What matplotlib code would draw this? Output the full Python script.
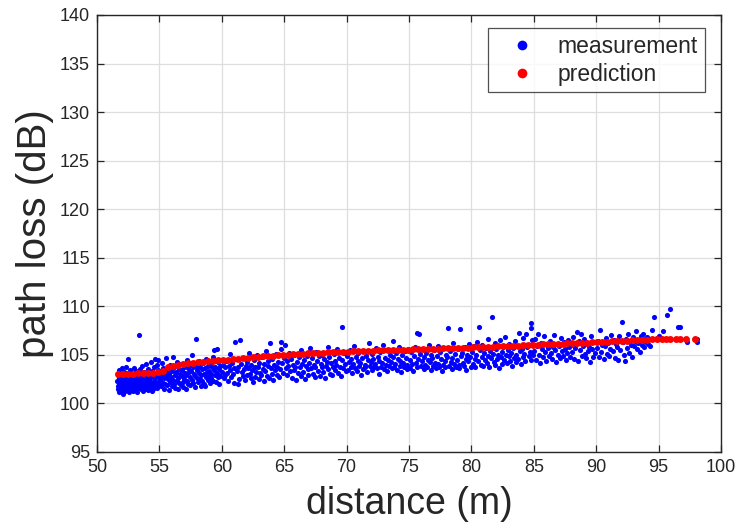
import matplotlib
matplotlib.use("Agg")
import matplotlib.pyplot as plt
from matplotlib.lines import Line2D

plt.rcParams['font.family'] = ['Liberation Sans', 'DejaVu Sans']

# measurement points (distance m, path loss dB), grouped by distance band
meas_51_55 = [(51.62,102.3),(51.65,101.8),(51.68,102.9),(51.70,101.5),(51.73,102.6),(51.75,103.4),(51.78,102.0),(51.80,101.2),(51.83,102.8),(51.86,101.7),
(51.88,102.4),(51.91,103.0),(51.93,101.9),(51.96,102.2),(51.98,101.4),(52.01,102.7),(52.04,103.6),(52.06,101.8),(52.09,102.5),(52.12,101.0),
(52.14,102.1),(52.17,103.2),(52.20,101.6),(52.22,102.9),(52.25,102.3),(52.28,101.3),(52.31,103.8),(52.33,102.0),(52.36,101.7),(52.39,102.6),
(52.42,101.4),(52.45,103.1),(52.48,104.6),(52.50,102.4),(52.53,101.9),(52.56,102.8),(52.59,101.2),(52.62,102.2),(52.64,103.4),(52.67,101.6),
(52.70,102.7),(52.73,102.0),(52.76,101.5),(52.79,103.0),(52.82,102.4),(52.85,101.8),(52.88,102.9),(52.91,101.3),(52.94,102.5),(52.97,103.6),
(53.00,102.1),(53.03,101.7),(53.06,102.8),(53.09,101.4),(53.12,102.3),(53.15,103.3),(53.18,101.9),(53.21,102.6),(53.24,101.2),(53.27,102.0),
(53.30,103.0),(53.33,101.6),(53.36,102.4),(53.40,107.0),(53.42,102.9),(53.45,101.8),(53.48,103.5),(53.51,102.2),(53.54,101.5),(53.57,102.7),
(53.60,103.9),(53.63,101.9),(53.66,102.5),(53.69,101.3),(53.72,102.1),(53.75,103.2),(53.78,101.7),(53.81,102.8),(53.84,102.3),(53.87,101.5),
(53.90,103.0),(53.93,102.0),(53.96,104.1),(53.99,101.8),(54.02,102.6),(54.05,101.4),(54.08,102.9),(54.11,103.5),(54.14,101.9),(54.17,102.4),
(54.20,101.6),(54.23,103.1),(54.26,102.2),(54.29,104.3),(54.32,101.8),(54.35,102.7),(54.38,101.3),(54.41,103.3),(54.44,102.0),(54.47,102.8),
(54.50,101.5),(54.53,103.7),(54.56,102.3),(54.59,101.9),(54.62,104.6),(54.65,102.6),(54.68,101.7),(54.71,103.0),(54.74,102.1),(54.77,104.0),
(54.80,101.6),(54.83,102.9),(54.86,103.4),(54.89,102.2),(54.92,104.5),(54.95,101.9),(54.98,102.7)]

meas_55_60 = [(55.03,102.4),(55.08,103.3),(55.12,101.8),(55.17,102.9),(55.21,104.2),(55.26,102.1),(55.30,103.6),(55.35,101.5),(55.39,102.6),(55.44,103.1),
(55.48,102.0),(55.53,104.7),(55.57,102.8),(55.62,101.9),(55.66,103.4),(55.71,102.5),(55.75,101.4),(55.80,103.0),(55.84,102.2),(55.89,104.0),
(55.93,102.7),(55.98,101.8),(56.02,103.3),(56.07,102.4),(56.11,104.8),(56.16,102.0),(56.20,103.7),(56.25,101.6),(56.29,102.9),(56.34,103.2),
(56.38,102.3),(56.43,104.3),(56.47,101.5),(56.52,102.6),(56.56,103.5),(56.61,102.1),(56.65,103.0),(56.70,101.9),(56.74,104.1),(56.79,102.8),
(56.83,103.4),(56.88,102.2),(56.92,101.7),(56.97,103.8),(57.01,102.5),(57.06,103.1),(57.10,101.5),(57.15,102.9),(57.19,104.5),(57.24,102.3),
(57.28,103.6),(57.33,102.0),(57.37,103.2),(57.42,101.9),(57.46,102.7),(57.51,104.0),(57.55,103.3),(57.60,105.0),(57.64,102.4),(57.69,103.7),
(57.73,102.1),(57.78,103.0),(57.82,101.7),(57.87,102.8),(57.91,103.9),(57.96,106.6),(58.00,102.6),(58.05,103.4),(58.09,102.2),(58.14,104.4),
(58.18,103.1),(58.23,102.5),(58.27,103.8),(58.32,101.8),(58.36,102.9),(58.41,103.5),(58.45,102.3),(58.50,104.2),(58.54,103.0),(58.59,102.0),
(58.63,103.6),(58.68,101.8),(58.72,102.7),(58.77,104.6),(58.81,103.2),(58.86,102.4),(58.90,103.9),(58.95,102.8),(58.99,103.3),(59.04,102.1),
(59.08,104.1),(59.13,103.0),(59.17,102.6),(59.22,103.7),(59.26,102.3),(59.31,104.8),(59.35,103.4),(59.40,105.5),(59.44,102.9),(59.49,103.8),
(59.53,102.2),(59.58,105.6),(59.62,103.1),(59.67,102.7),(59.71,104.3),(59.76,103.5),(59.80,102.0),(59.85,103.9),(59.89,102.8),(59.94,104.5)]

meas_60_65 = [(60.03,103.2),(60.10,104.0),(60.16,102.6),(60.23,103.7),(60.29,102.9),(60.36,104.4),(60.42,103.1),(60.49,102.3),(60.55,103.9),(60.62,105.1),
(60.68,103.4),(60.75,102.7),(60.81,104.2),(60.88,103.0),(60.94,102.1),(61.01,103.6),(61.07,106.3),(61.14,104.6),(61.20,103.3),(61.27,102.0),
(61.33,103.8),(61.40,102.5),(61.46,106.5),(61.53,104.1),(61.59,103.2),(61.66,102.8),(61.72,104.7),(61.79,103.5),(61.85,102.4),(61.92,103.9),
(61.98,104.3),(62.05,102.9),(62.11,103.6),(62.18,105.2),(62.24,103.0),(62.31,102.6),(62.37,104.0),(62.44,103.4),(62.50,102.2),(62.57,104.5),
(62.63,103.7),(62.70,102.7),(62.76,103.2),(62.83,105.0),(62.89,103.8),(62.96,102.5),(63.02,104.2),(63.09,103.1),(63.15,102.9),(63.22,104.8),
(63.28,103.5),(63.35,102.3),(63.41,104.1),(63.48,103.3),(63.54,105.4),(63.61,102.8),(63.67,103.9),(63.74,104.4),(63.80,102.6),(63.87,106.2),
(63.93,103.6),(64.00,104.6),(64.06,103.0),(64.13,102.4),(64.19,104.0),(64.26,103.4),(64.32,105.1),(64.39,102.9),(64.45,103.8),(64.52,104.3),
(64.58,102.7),(64.65,103.5),(64.71,105.6),(64.78,106.3),(64.84,104.2),(64.91,103.1),(64.97,104.7)]

meas_65_70 = [(65.05,106.0),(65.12,103.6),(65.19,104.4),(65.26,102.9),(65.33,103.9),(65.40,105.2),(65.47,103.3),(65.54,104.6),(65.61,102.6),(65.68,104.0),
(65.75,103.4),(65.82,105.0),(65.89,103.8),(65.96,102.4),(66.03,104.3),(66.10,103.1),(66.17,104.8),(66.24,103.7),(66.31,102.8),(66.38,105.5),
(66.45,104.1),(66.52,103.2),(66.59,104.5),(66.66,102.5),(66.73,103.9),(66.80,104.9),(66.87,103.5),(66.94,102.9),(67.01,104.2),(67.08,105.7),
(67.15,103.6),(67.22,104.7),(67.29,103.0),(67.36,104.0),(67.43,102.7),(67.50,103.8),(67.57,105.3),(67.64,104.4),(67.71,103.3),(67.78,104.9),
(67.85,102.8),(67.92,104.1),(67.99,103.7),(68.06,105.0),(68.13,103.2),(68.20,104.6),(68.27,102.6),(68.34,103.9),(68.41,104.3),(68.48,105.8),
(68.55,103.5),(68.62,104.8),(68.69,103.0),(68.76,104.2),(68.83,102.9),(68.90,103.7),(68.97,105.1),(69.04,104.4),(69.11,103.4),(69.18,104.0),
(69.25,105.6),(69.32,103.1),(69.39,104.7),(69.46,103.8),(69.53,102.8),(69.60,104.5),(69.67,107.9),(69.74,103.6),(69.81,105.2),(69.88,104.1),(69.95,103.3)]

meas_70_75 = [(70.04,104.9),(70.11,103.4),(70.18,104.3),(70.25,105.5),(70.32,103.8),(70.39,104.6),(70.46,103.1),(70.53,104.1),(70.60,105.9),(70.67,103.6),
(70.74,104.8),(70.81,103.3),(70.88,104.4),(70.95,105.2),(71.02,103.9),(71.09,104.2),(71.16,102.9),(71.23,104.7),(71.30,103.5),(71.37,105.4),
(71.44,104.0),(71.51,103.7),(71.58,104.9),(71.65,103.2),(71.72,104.5),(71.79,106.2),(71.86,103.9),(71.93,104.3),(72.00,103.4),(72.07,105.1),
(72.14,104.6),(72.21,103.8),(72.28,104.1),(72.35,105.7),(72.42,103.6),(72.49,104.8),(72.56,103.0),(72.63,104.4),(72.70,105.3),(72.77,103.7),
(72.84,104.2),(72.91,106.0),(72.98,103.5),(73.05,104.7),(73.12,104.0),(73.19,105.5),(73.26,103.3),(73.33,104.5),(73.40,103.9),(73.47,105.0),
(73.54,104.3),(73.61,103.6),(73.68,106.4),(73.75,104.8),(73.82,103.8),(73.89,104.1),(73.96,105.2),(74.03,103.4),(74.10,104.6),(74.17,105.8),
(74.24,103.9),(74.31,104.4),(74.38,103.2),(74.45,105.0),(74.52,104.2),(74.59,103.7),(74.66,105.4),(74.73,104.7),(74.80,103.5),(74.87,104.0),(74.94,105.6)]

meas_75_80 = [(75.05,104.5),(75.12,103.6),(75.19,105.3),(75.26,104.1),(75.33,103.3),(75.40,104.9),(75.47,105.8),(75.54,104.2),(75.61,107.3),(75.68,103.8),
(75.75,104.6),(75.82,107.1),(75.89,105.1),(75.96,103.9),(76.03,104.4),(76.10,105.6),(76.17,103.5),(76.24,104.8),(76.31,104.0),(76.38,105.2),
(76.45,103.7),(76.52,104.5),(76.59,106.0),(76.66,104.3),(76.73,103.4),(76.80,105.0),(76.87,104.7),(76.94,103.9),(77.01,105.5),(77.08,104.2),
(77.15,103.6),(77.22,104.9),(77.29,105.9),(77.36,104.1),(77.43,103.8),(77.50,105.3),(77.57,104.6),(77.64,103.3),(77.71,104.0),(77.78,105.7),
(77.85,104.4),(77.92,103.7),(77.99,105.0),(78.06,104.8),(78.13,107.8),(78.20,103.9),(78.27,105.4),(78.34,104.3),(78.41,103.5),(78.48,104.7),
(78.55,106.2),(78.62,104.1),(78.69,105.1),(78.76,103.8),(78.83,104.5),(78.90,105.6),(78.97,104.0),(79.04,103.6),(79.11,107.7),(79.18,104.9),
(79.25,105.2),(79.32,104.2),(79.39,103.9),(79.46,105.8),(79.53,104.6),(79.60,103.4),(79.67,105.0),(79.74,104.4),(79.81,106.1),(79.88,104.8),(79.95,103.8)]

meas_80_85 = [(80.04,105.3),(80.11,104.1),(80.18,105.9),(80.25,104.6),(80.32,103.7),(80.39,105.0),(80.46,106.3),(80.53,104.4),(80.60,107.9),(80.67,105.5),
(80.74,104.0),(80.81,104.8),(80.88,106.0),(80.95,103.9),(81.02,105.2),(81.09,104.5),(81.16,105.7),(81.23,104.2),(81.30,106.6),(81.37,104.9),
(81.44,103.8),(81.51,105.4),(81.58,104.7),(81.65,108.9),(81.72,105.1),(81.79,104.3),(81.86,106.2),(81.93,104.0),(82.00,105.6),(82.07,104.6),
(82.14,105.0),(82.21,103.6),(82.28,106.5),(82.35,104.8),(82.42,105.3),(82.49,104.1),(82.56,105.8),(82.63,104.5),(82.70,106.8),(82.77,105.0),
(82.84,104.2),(82.91,105.5),(82.98,104.9),(83.05,106.1),(83.12,104.4),(83.19,105.2),(83.26,103.9),(83.33,105.7),(83.40,104.7),(83.47,106.4),
(83.54,105.0),(83.61,104.3),(83.68,105.9),(83.75,104.6),(83.82,107.3),(83.89,105.4),(83.96,104.1),(84.03,105.6),(84.10,106.7),(84.17,104.8),
(84.24,105.1),(84.31,104.4),(84.38,107.1),(84.45,105.8),(84.75,108.3),(84.80,107.8),(84.59,104.9),(84.66,106.0),(84.73,105.3),(84.80,104.5),(84.87,106.5),(84.94,105.0)]

meas_85_90 = [(85.05,105.4),(85.13,106.6),(85.21,104.5),(85.29,105.9),(85.37,107.1),(85.45,105.0),(85.53,104.2),(85.61,106.2),(85.69,105.6),(85.77,104.8),
(85.85,106.9),(85.93,105.3),(86.01,104.4),(86.09,106.0),(86.17,105.7),(86.25,104.9),(86.33,106.4),(86.41,105.2),(86.49,104.6),(86.57,105.8),
(86.65,107.0),(86.73,105.5),(86.81,104.3),(86.89,106.1),(86.97,105.0),(87.05,105.9),(87.13,104.7),(87.21,106.7),(87.29,105.4),(87.37,104.9),
(87.45,106.3),(87.53,105.6),(87.61,104.5),(87.69,105.2),(87.77,106.5),(87.85,105.8),(87.93,104.8),(88.01,106.0),(88.09,105.3),(88.17,106.8),
(88.25,104.6),(88.33,105.7),(88.41,106.2),(88.49,107.4),(88.57,104.4),(88.65,106.4),(88.73,105.5),(88.81,107.2),(88.89,104.9),(88.97,105.9),
(89.05,106.6),(89.13,105.1),(89.21,104.7),(89.29,106.1),(89.37,105.4),(89.45,105.8),(89.53,104.3),(89.61,106.9),(89.69,105.6),(89.77,104.8),(89.85,106.3),(89.93,105.2)]

meas_90_98 = [(90.05,105.7),(90.14,106.4),(90.23,104.8),(90.32,107.6),(90.41,105.3),(90.50,106.0),(90.59,104.6),(90.68,105.9),(90.77,106.7),(90.86,105.1),
(90.95,106.2),(91.04,104.9),(91.13,105.6),(91.22,107.0),(91.31,105.4),(91.40,106.5),(91.49,104.7),(91.58,106.1),(91.67,105.8),(91.76,104.5),
(91.85,106.9),(91.94,105.5),(92.03,108.4),(92.12,106.3),(92.21,105.0),(92.30,104.4),(92.39,106.6),(92.48,105.7),(92.57,107.2),(92.66,105.2),
(92.75,106.0),(92.84,104.8),(92.93,106.8),(93.02,105.9),(93.11,106.4),(93.20,107.5),(93.29,105.6),(93.38,106.2),(93.47,105.3),(93.56,106.9),
(93.65,106.0),(93.74,107.1),(93.83,105.8),(93.92,106.6),(94.01,106.3),(94.10,106.8),(94.19,106.1),(94.28,105.9),(94.45,107.6),(94.65,108.9),
(94.85,106.7),(95.05,106.9),(95.35,107.5),(95.70,109.1),(95.90,109.7),(96.55,107.9),(96.75,107.9),(97.20,106.5),(97.25,106.3),(98.10,106.6),(98.10,106.3)]

measurement_bands = [meas_51_55, meas_55_60, meas_60_65, meas_65_70, meas_70_75,
                     meas_75_80, meas_80_85, meas_85_90, meas_90_98]

# prediction
pred_x = [51.7,52.1,52.5,52.9,53.3,53.7,54.1,54.5,54.9,55.3,55.7,56.1,56.5,56.9,57.3,57.7,58.1,58.5,58.9,59.3,
          59.7,60.1,60.5,60.9,61.3,61.7,62.1,62.5,62.9,63.3,63.7,64.1,64.5,64.9,65.3,65.7,66.1,66.5,66.9,67.3,
          67.7,68.1,68.5,68.9,69.3,69.7,70.1,70.5,70.9,71.3,71.7,72.1,72.5,72.9,73.3,73.7,74.1,74.5,74.9,75.3,
          75.7,76.1,76.5,76.9,77.3,77.7,78.1,78.5,78.9,79.3,79.7,80.1,80.5,80.9,81.3,81.7,82.1,82.5,82.9,83.3,
          83.7,84.1,84.5,84.9,85.3,85.7,86.1,86.5,86.9,87.3,87.7,88.1,88.5,88.9,89.3,89.7,90.1,90.5,90.9,91.3,
          91.7,92.1,92.5,92.9,93.3,93.7,94.1,94.5,94.9,95.3,95.6,95.9,96.4,96.7,97.2,97.9]
pred_y = [103.0,103.0,103.0,103.0,103.1,103.1,103.1,103.1,103.2,103.3,103.7,103.9,104.0,104.1,104.2,104.2,104.3,104.3,104.4,104.4,
          104.5,104.5,104.5,104.6,104.6,104.7,104.7,104.8,104.8,104.9,104.9,104.9,105.0,105.0,105.0,105.1,105.1,105.1,105.2,105.2,
          105.2,105.2,105.3,105.3,105.3,105.3,105.3,105.4,105.4,105.4,105.4,105.4,105.5,105.5,105.5,105.5,105.5,105.5,105.5,105.6,
          105.6,105.6,105.6,105.6,105.6,105.7,105.7,105.7,105.7,105.7,105.7,105.8,105.8,105.8,105.8,105.8,105.9,105.9,105.9,105.9,
          105.9,106.0,106.0,106.0,106.0,106.1,106.1,106.1,106.1,106.1,106.2,106.2,106.2,106.2,106.2,106.3,106.3,106.3,106.3,106.4,
          106.4,106.4,106.4,106.5,106.5,106.5,106.5,106.6,106.6,106.6,106.6,106.6,106.6,106.6,106.6,106.6]

x_ticks = [50, 55, 60, 65, 70, 75, 80, 85, 90, 95, 100]
y_ticks = [95, 100, 105, 110, 115, 120, 125, 130, 135, 140]

fig = plt.figure(figsize=(7.37, 5.31), dpi=100)
ax = fig.add_axes([0.1316, 0.1488, 0.8467, 0.8230])

for band in measurement_bands:
    xs = [p[0] for p in band]
    ys = [p[1] for p in band]
    ax.plot(xs, ys, 'o', color='#0000ff', ms=3.7, mew=0, zorder=3)
ax.plot(pred_x, pred_y, 'o', color='#ff0000', ms=5.0, mew=0, zorder=4)

ax.set_xlim(50, 100)
ax.set_ylim(95, 140)
ax.set_xticks(x_ticks)
ax.set_yticks(y_ticks)
ax.grid(True, color='#dedede', linewidth=0.9)
ax.set_axisbelow(True)
for s in ax.spines.values():
    s.set_color('#262626')
    s.set_linewidth(1.0)
ax.tick_params(direction='in', length=5, width=0.9, color='#262626', labelsize=13,
               labelcolor='#262626', top=True, right=True, pad=5)

ax.set_xlabel('distance (m)', fontsize=27, color='#262626', labelpad=7)
ax.set_ylabel('path loss (dB)', fontsize=29, color='#262626', labelpad=4)

handles = [Line2D([], [], marker='o', ls='', color='#0000ff', ms=7, mew=0),
           Line2D([], [], marker='o', ls='', color='#ff0000', ms=7, mew=0)]
leg = ax.legend(handles, ['measurement', 'prediction'], loc='upper right',
                bbox_to_anchor=(0.974, 0.970), borderaxespad=0, fontsize=16.5,
                frameon=True, fancybox=False, handlelength=2.4, handletextpad=0.35,
                borderpad=0.3, labelspacing=0.2)
leg.get_frame().set_edgecolor('#262626')
leg.get_frame().set_linewidth(0.9)
for t in leg.get_texts():
    t.set_color('#262626')

fig.savefig('out.png', dpi=100)
